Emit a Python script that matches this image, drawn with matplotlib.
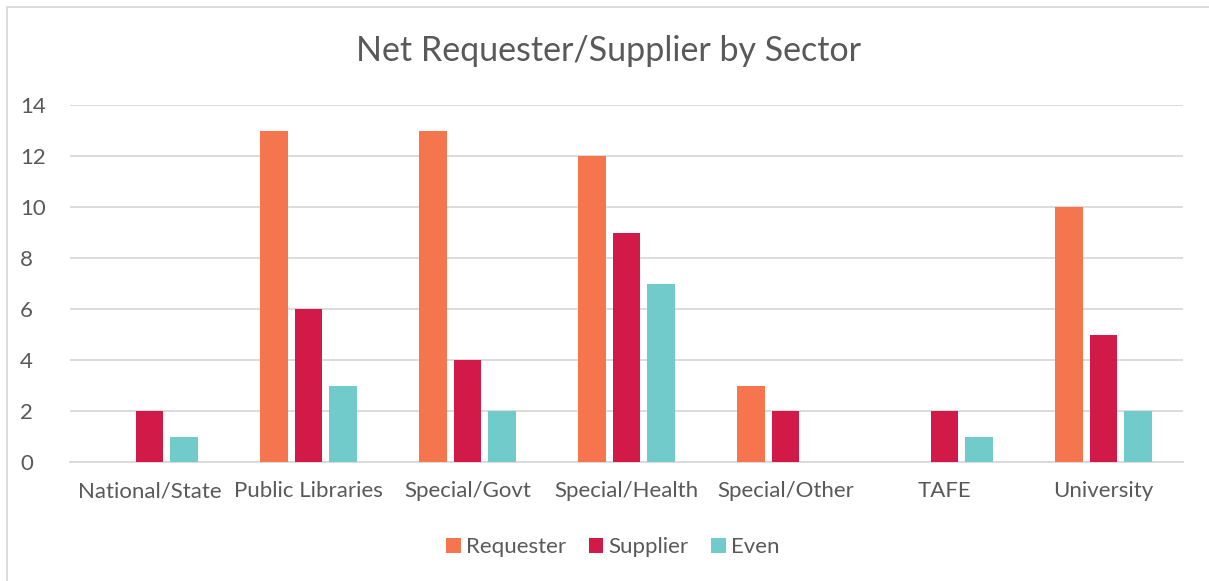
import matplotlib
matplotlib.use("Agg")
import matplotlib.pyplot as plt
import numpy as np

plt.rcParams['font.family'] = ['Lato', 'DejaVu Sans']

sectors = ['National/State', 'Public Libraries', 'Special/Govt', 'Special/Health',
           'Special/Other', 'TAFE', 'University']
requester = [0, 13, 13, 12, 3, 0, 10]
supplier = [2, 6, 4, 9, 2, 2, 5]
even = [1, 3, 2, 7, 0, 1, 2]
series_names = ['Requester', 'Supplier', 'Even']
colors = ['#F4754E', '#D11A47', '#71CBCB']
text_color = '#595959'

W, H = 1209, 581
fig = plt.figure(figsize=(W / 100, H / 100), dpi=100)
ax = fig.add_axes([70 / W, 1 - 462 / H, (1183 - 70) / W, (462 - 105) / H])

# chart border (left/top visible only)
fig.patches.append(plt.Rectangle((7 / W, -0.05), 1.2, 1 - 7 / H + 0.05,
                                 transform=fig.transFigure, fill=False,
                                 edgecolor='#D9D9D9', linewidth=1.3))

x = np.arange(len(sectors))
bw = 0.176
step = 0.22
for i, (vals, name, c) in enumerate(zip([requester, supplier, even], series_names, colors)):
    ax.bar(x + (i - 1) * step, vals, width=bw, color=c, label=name, zorder=3)

ax.set_xlim(-0.5, len(sectors) - 0.5)
ax.set_ylim(0, 14)
ax.set_yticks(range(0, 15, 2))
ax.set_xticks(x)
ax.set_xticklabels(sectors)
ax.yaxis.grid(True, color='#D9D9D9', linewidth=1.3, zorder=0)
for s in ['top', 'right', 'left']:
    ax.spines[s].set_visible(False)
ax.spines['bottom'].set_color('#D9D9D9')
ax.spines['bottom'].set_linewidth(1.3)
ax.tick_params(axis='both', length=0, labelsize=16, colors=text_color)
ax.tick_params(axis='x', pad=14)
ax.tick_params(axis='y', pad=36)
for lab in ax.get_yticklabels():
    lab.set_horizontalalignment('left')

fig.text(608 / W, 1 - 51 / H, 'Net Requester/Supplier by Sector',
         ha='center', va='center', fontsize=24.5, color=text_color)

ax.legend(loc='center', bbox_to_anchor=((613 - 70) / (1183 - 70), -(547 - 462) / (462 - 105)),
          ncol=3, frameon=False,
          fontsize=16, labelcolor=text_color, handlelength=0.65, handleheight=0.65,
          handletextpad=0.25, columnspacing=1.0)

fig.savefig('out.png', dpi=100)
